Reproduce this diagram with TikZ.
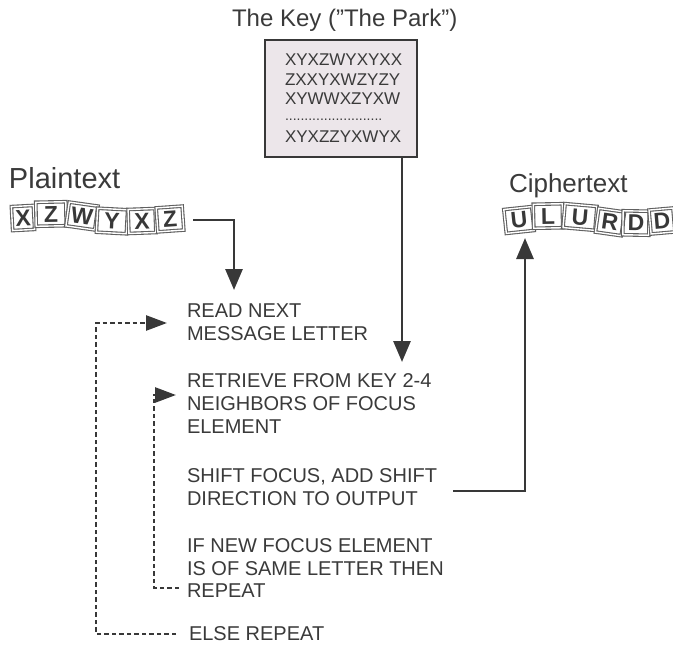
\documentclass[tikz,border=0pt]{standalone}
\usepackage{fontspec}
\setmainfont{Liberation Sans}
\usetikzlibrary{arrows.meta}
\definecolor{ink}{HTML}{383838}
\definecolor{txt}{HTML}{3A3A3A}
\definecolor{keyfill}{HTML}{ECE6EA}
\definecolor{boxline}{HTML}{606060}
\begin{document}
\begin{tikzpicture}[x=1pt,y=-1pt,
  every node/.style={inner sep=0pt, outer sep=0pt, text=txt},
  stepline/.style={anchor=base west, font=\fontsize{20}{23}\selectfont},
  keyline/.style={anchor=base west, font=\fontsize{17}{20}\selectfont},
  biglabel/.style={anchor=base west},
  lbox/.style={draw=boxline, line width=1.1pt, double=white, double distance=1.4pt,
    minimum height=24pt, font=\fontsize{23}{23}\selectfont\bfseries, text=ink},
  solidarrow/.style={draw=ink, line width=2.8pt, -{Triangle[length=21pt,width=17pt]}},
  dasharrow/.style={draw=ink, line width=2.6pt, dash pattern=on 4.5pt off 3pt,
    -{Triangle[length=21pt,width=15pt]}},
]
\useasboundingbox (0,0) rectangle (673,645);

% title and key box
\node[biglabel, font=\fontsize{24}{24}\selectfont] (keytitle) at (232,27) {The Key ("The Park")};
\node[draw=ink, line width=1.5pt, fill=keyfill, minimum width=152pt, minimum height=117pt] (key) at (341,98.5) {};
\node[keyline] (k1) at (285,65) {XYXZWYXYXX};
\node[keyline] (k2) at (285,85) {ZXXYXWZYZY};
\node[keyline] (k3) at (285,104) {XYWWXZYXW};
\node[keyline, font=\fontsize{14}{14}\selectfont] (k4) at (285,120) {.........................};
\node[keyline] (k5) at (285,142) {XYXZZYXWYX};

% plaintext
\node[biglabel, font=\fontsize{29}{29}\selectfont] (ptlabel) at (9,188) {Plaintext};
\node[lbox, minimum width=22pt, rotate=3] (p1) at (23,218) {X};
\node[lbox, minimum width=30pt, rotate=1] (p2) at (51,214) {Z};
\node[lbox, minimum width=29pt, rotate=-8] (p3) at (82,216) {W};
\node[lbox, minimum width=30pt, rotate=-3] (p4) at (112,221) {Y};
\node[lbox, minimum width=27pt, rotate=2] (p5) at (142,221) {X};
\node[lbox, minimum width=26pt, rotate=4] (p6) at (170,219) {Z};

% ciphertext
\node[biglabel, font=\fontsize{26}{26}\selectfont] (ctlabel) at (509,192) {Ciphertext};
\node[lbox, minimum width=28pt, rotate=6] (c1) at (519,220) {U};
\node[lbox, minimum width=29pt, rotate=1] (c2) at (548,216) {L};
\node[lbox, minimum width=32pt, rotate=-5] (c3) at (580,217) {U};
\node[lbox, minimum width=26pt, rotate=-8] (c4) at (610,222) {R};
\node[lbox, minimum width=26pt, rotate=-1] (c5) at (636,223) {D};
\node[lbox, minimum width=24pt, rotate=5] (c6) at (662,221) {D};

% steps
\node[stepline] (s1a) at (187,317) {READ NEXT};
\node[stepline] (s1b) at (187,340) {MESSAGE LETTER};
\node[stepline] (s2a) at (187,387) {RETRIEVE FROM KEY 2-4};
\node[stepline] (s2b) at (187,410) {NEIGHBORS OF FOCUS};
\node[stepline] (s2c) at (187,433) {ELEMENT};
\node[stepline] (s3a) at (187,482) {SHIFT FOCUS, ADD SHIFT};
\node[stepline] (s3b) at (187,505) {DIRECTION TO OUTPUT};
\node[stepline] (s4a) at (187,552) {IF NEW FOCUS ELEMENT};
\node[stepline] (s4b) at (187,575) {IS OF SAME LETTER THEN};
\node[stepline] (s4c) at (187,597) {REPEAT};
\node[stepline] (s5) at (189,640) {ELSE REPEAT};

% connector end points
\coordinate (ptstart) at (193,220);
\coordinate (readin) at (234,290);
\coordinate (retrin) at (402,362);
\coordinate (shiftout) at (453,491);
\coordinate (cipin) at (525,238);
\coordinate (repstart) at (179,588);
\coordinate (repcorner) at (154,588);
\coordinate (retback) at (176,395);
\coordinate (elsestart) at (176,634);
\coordinate (elsecorner) at (96,634);
\coordinate (readback) at (167,323);

% connectors
\draw[solidarrow] (ptstart) -| (readin);
\draw[solidarrow] (key.south -| retrin) -- (retrin);
\draw[solidarrow] (shiftout) -| (cipin);
\draw[dasharrow] (repstart) -- (repcorner) |- (retback);
\draw[dasharrow] (elsestart) -- (elsecorner) |- (readback);
\end{tikzpicture}
\end{document}
